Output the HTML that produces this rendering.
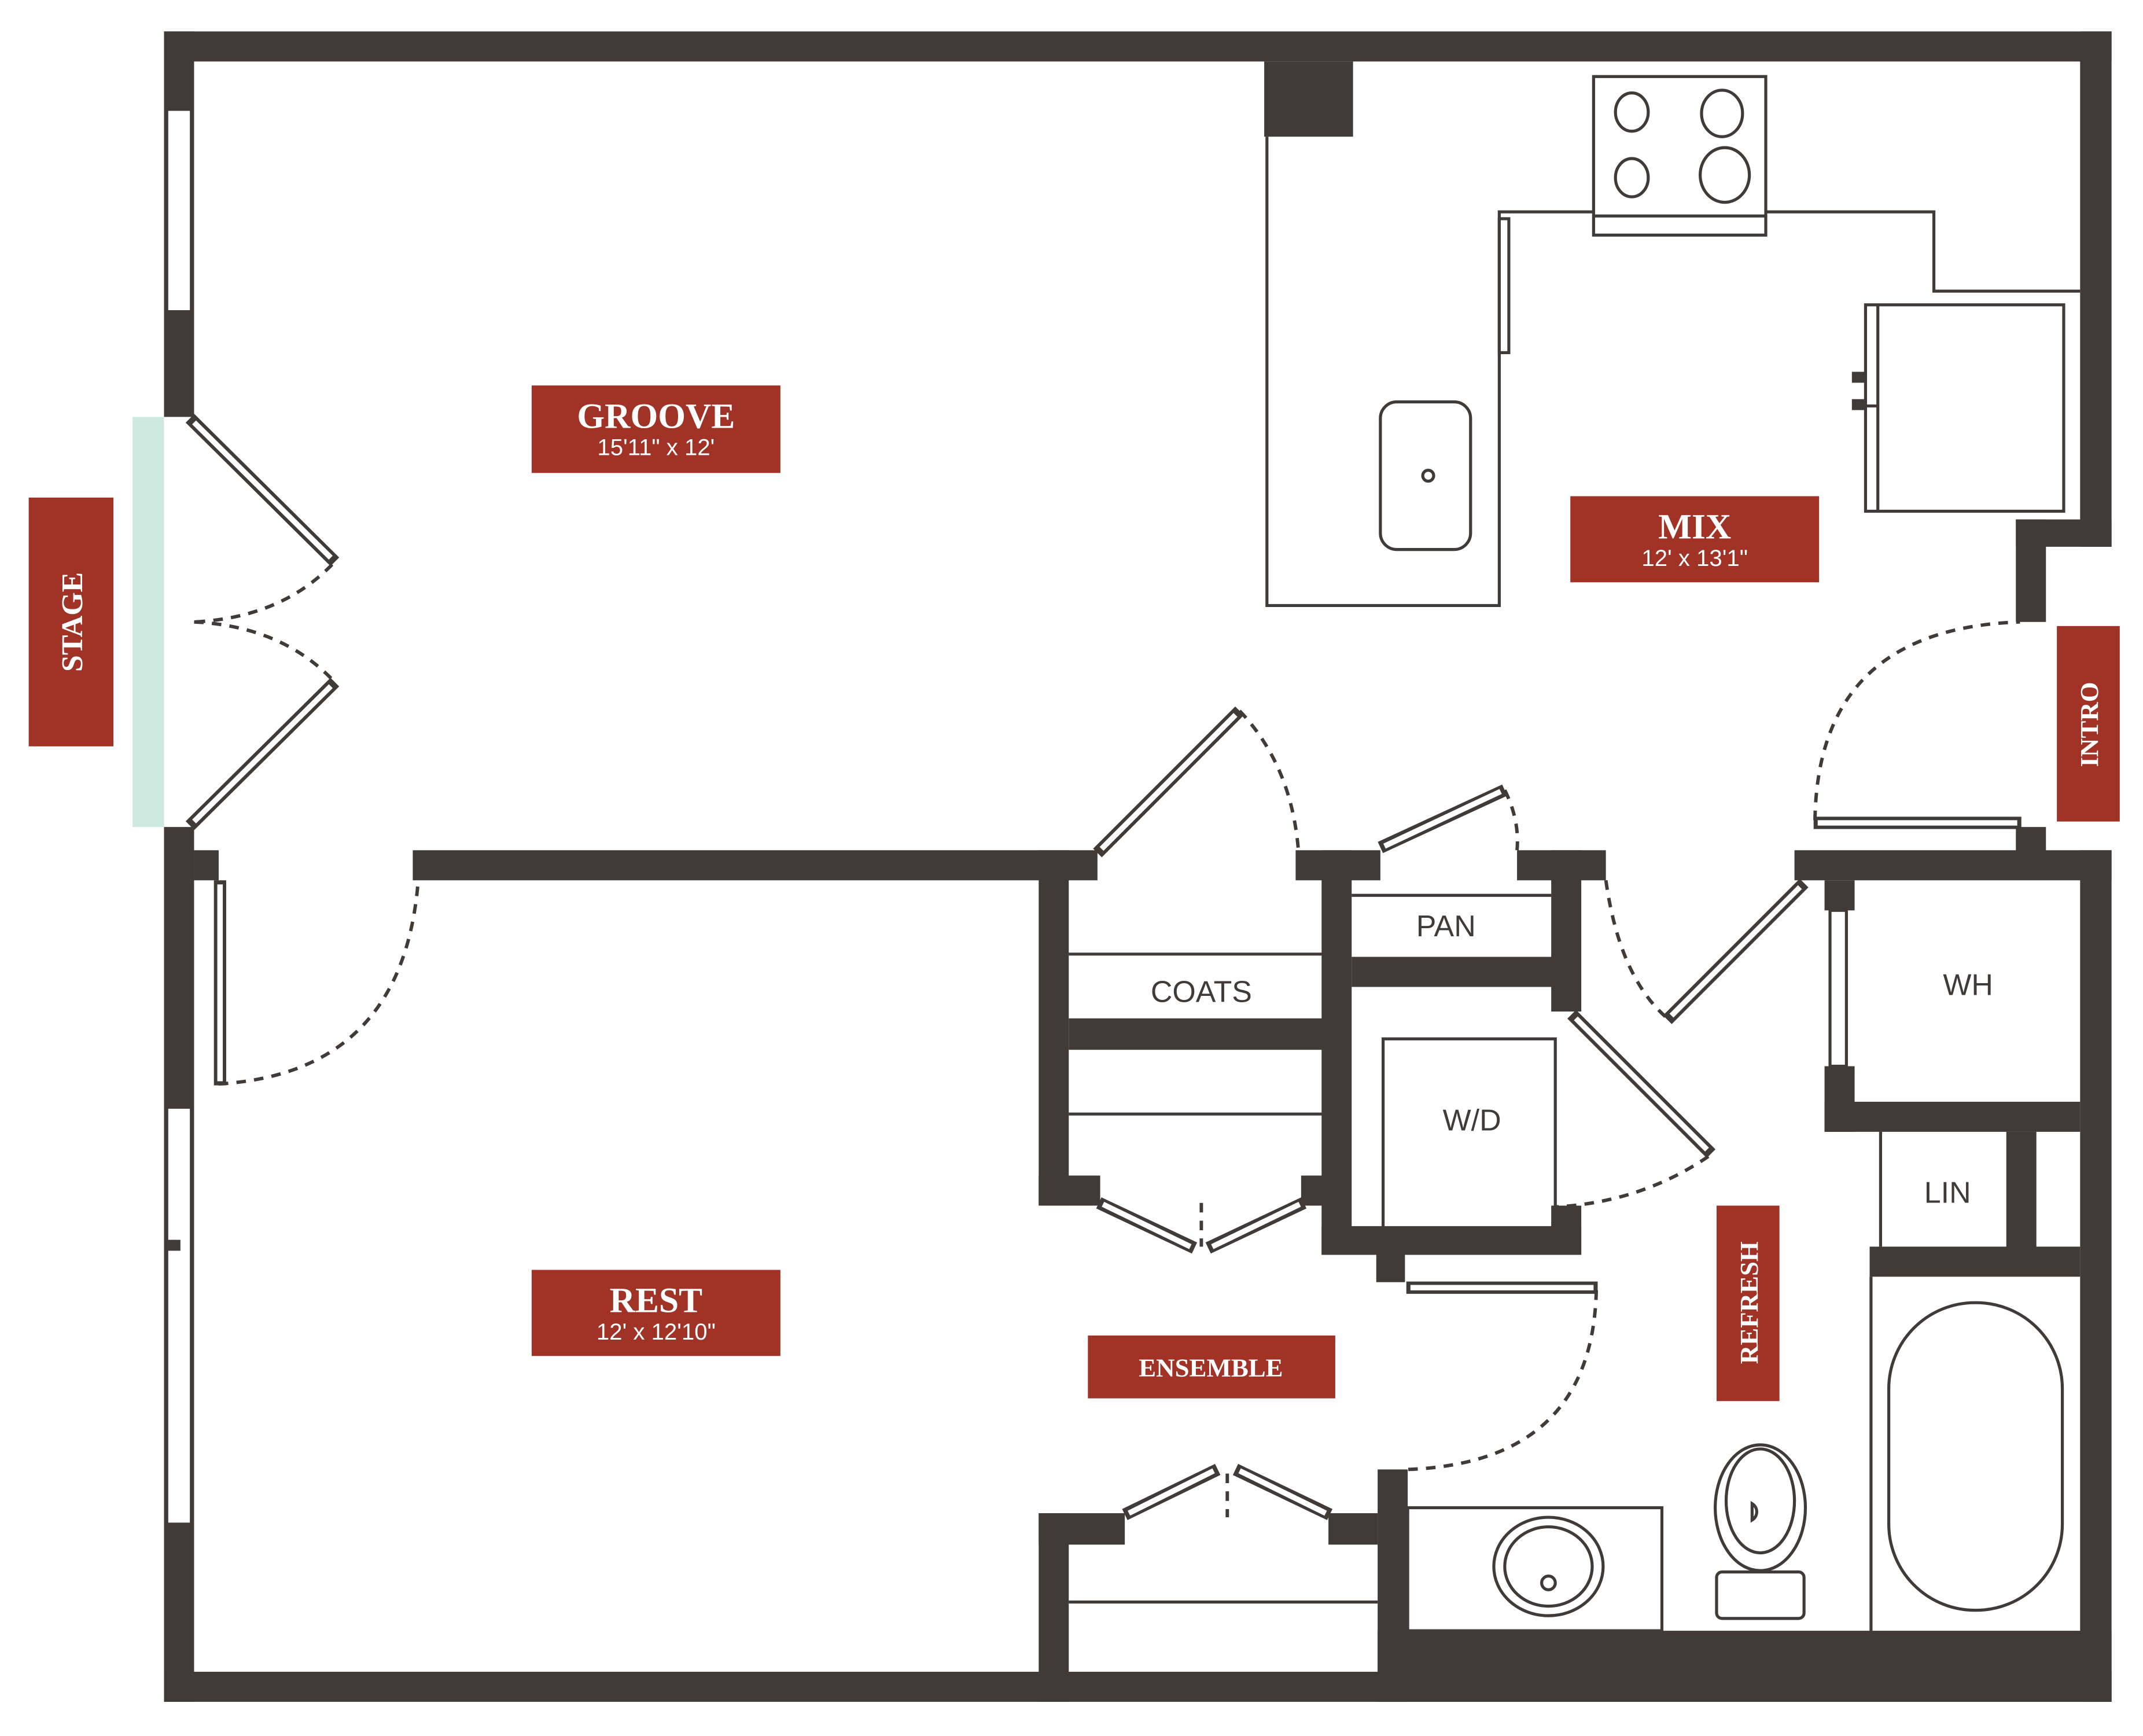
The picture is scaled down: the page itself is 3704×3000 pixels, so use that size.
<!DOCTYPE html>
<html><head><meta charset="utf-8"><style>
html,body{margin:0;padding:0;background:#fff}
svg{display:block}
.w{fill:#413b38}
.l{fill:none;stroke:#413b38;stroke-width:2.2}
.lw{fill:#fff;stroke:#413b38;stroke-width:2.2}
.d{fill:none;stroke:#413b38;stroke-width:2.5;stroke-dasharray:7,6}
.lab{fill:#a03226}
.t{font-family:"Liberation Serif",serif;font-weight:bold;fill:#fff}
.s{font-family:"Liberation Sans",sans-serif;fill:#fff}
.k{font-family:"Liberation Sans",sans-serif;fill:#413b38}
</style></head><body>
<svg width="3704" height="3000" viewBox="0 0 1568 1270" xmlns="http://www.w3.org/2000/svg">
<rect width="1568" height="1270" fill="#fff"/>
<!-- outer walls -->
<rect class="w" x="120" y="23" width="1425" height="22"/>
<rect class="w" x="120" y="1223" width="1425" height="22"/>
<rect class="w" x="120" y="23" width="22" height="282"/>
<rect class="w" x="120" y="605" width="22" height="640"/>
<rect class="w" x="142" y="622" width="18" height="22"/>
<rect class="lw" x="122" y="80" width="18" height="148"/>
<rect class="lw" x="122" y="810" width="18" height="305"/>
<rect class="w" x="120" y="907" width="12" height="8"/>
<rect x="97" y="305" width="23" height="300" fill="#cde9e0"/>
<rect class="w" x="1522" y="23" width="23" height="377"/>
<rect class="w" x="1475" y="380" width="70" height="20"/>
<rect class="w" x="1475" y="380" width="22" height="75"/>
<rect class="w" x="1475" y="605" width="22" height="20"/>
<rect class="w" x="1522" y="622" width="23" height="623"/>
<rect class="w" x="925" y="45" width="65" height="55"/>
<!-- interior walls -->
<rect class="w" x="302" y="622" width="501" height="22"/>
<rect class="w" x="948" y="622" width="62" height="22"/>
<rect class="w" x="1110" y="622" width="65" height="22"/>
<rect class="w" x="1313" y="622" width="232" height="22"/>
<rect class="w" x="760" y="622" width="22" height="260"/>
<rect class="w" x="760" y="860" width="45" height="22"/>
<rect class="w" x="952" y="860" width="20" height="22"/>
<line class="l" x1="782" y1="698" x2="968" y2="698"/>
<rect class="w" x="782" y="745" width="186" height="23"/>
<line class="l" x1="782" y1="815" x2="968" y2="815"/>
<rect class="w" x="967" y="622" width="22" height="296"/>
<line class="l" x1="989" y1="655" x2="1135" y2="655"/>
<rect class="w" x="989" y="700" width="166" height="22"/>
<rect class="w" x="1135" y="622" width="22" height="118"/>
<rect class="lw" x="1012" y="760" width="126" height="142"/>
<rect class="w" x="967" y="897" width="190" height="21"/>
<rect class="w" x="1135" y="882" width="22" height="36"/>
<rect class="w" x="1007" y="918" width="21" height="20"/>
<!-- bath area -->
<rect class="w" x="1335" y="644" width="22" height="22"/>
<rect class="lw" x="1339" y="666" width="12" height="114"/>
<rect class="w" x="1335" y="780" width="22" height="48"/>
<rect class="w" x="1335" y="806" width="187" height="22"/>
<line class="l" x1="1376" y1="828" x2="1376" y2="912"/>
<rect class="w" x="1468" y="828" width="22" height="90"/>
<rect class="w" x="1368" y="912" width="154" height="22"/>
<line class="l" x1="1369" y1="934" x2="1369" y2="1193"/>
<rect class="w" x="1008" y="1075" width="22" height="170"/>
<rect class="w" x="1008" y="1193" width="537" height="52"/>
<rect class="l" x="1030" y="1103" width="186" height="90"/>
<ellipse class="l" cx="1133" cy="1146" rx="40" ry="36"/>
<ellipse class="l" cx="1133" cy="1146" rx="32" ry="29"/>
<ellipse class="l" cx="1133" cy="1158" rx="5" ry="5"/>
<ellipse class="l" cx="1288" cy="1103" rx="33" ry="46"/>
<ellipse class="l" cx="1288" cy="1098" rx="25" ry="38"/>
<path class="l" d="M1282 1112 v-12 a7 7 0 0 1 0 12z"/>
<rect class="l" x="1256" y="1150" width="64" height="34" rx="4"/>
<rect class="l" x="1382" y="953" width="127" height="225" rx="63"/>
<!-- bottom closet -->
<rect class="w" x="760" y="1107" width="22" height="138"/>
<rect class="w" x="760" y="1107" width="63" height="23"/>
<rect class="w" x="972" y="1107" width="36" height="23"/>
<line class="l" x1="782" y1="1172" x2="1008" y2="1172"/>
<!-- kitchen -->
<polyline class="l" points="927,100 927,443 1097,443 1097,155 1415,155 1415,213 1522,213"/>
<rect class="lw" x="1097" y="160" width="7" height="98"/>
<rect class="lw" x="1166" y="56" width="126" height="116"/>
<line class="l" x1="1166" y1="158" x2="1292" y2="158"/>
<ellipse class="l" cx="1194" cy="82" rx="12" ry="14"/>
<ellipse class="l" cx="1260" cy="83" rx="15" ry="17"/>
<ellipse class="l" cx="1194" cy="130" rx="12" ry="14"/>
<ellipse class="l" cx="1262" cy="128" rx="18" ry="20"/>
<rect class="lw" x="1010" y="294" width="66" height="108" rx="12"/>
<circle class="l" cx="1045" cy="348" r="4"/>
<rect class="lw" x="1365" y="223" width="145" height="151"/>
<line class="l" x1="1374" y1="223" x2="1374" y2="374"/>
<line class="l" x1="1365" y1="297" x2="1374" y2="297"/>
<rect class="w" x="1355" y="272" width="10" height="8"/>
<rect class="w" x="1355" y="292" width="10" height="8"/>
<!-- door leaves -->
<g stroke="#413b38" stroke-width="9" stroke-linecap="butt" fill="none">
<line x1="139" y1="306" x2="245" y2="411"/><line x1="139" y1="604" x2="245" y2="499"/>
<line x1="161" y1="644" x2="161" y2="794"/>
<line x1="803" y1="624" x2="907" y2="520"/>
<line x1="1010" y1="620" x2="1101" y2="578"/>
<line x1="1220" y1="746" x2="1320" y2="646"/>
<line x1="1150" y1="742" x2="1252" y2="844"/>
<line x1="1327" y1="602" x2="1479" y2="602"/>
<line x1="1029" y1="942" x2="1169" y2="942"/>
<line x1="804" y1="880" x2="874" y2="913"/><line x1="884" y1="913" x2="954" y2="880"/>
<line x1="823" y1="1108" x2="891" y2="1075"/><line x1="904" y1="1075" x2="973" y2="1108"/>
</g>
<g stroke="#fff" stroke-width="4" fill="none">
<line x1="142" y1="309" x2="242" y2="408"/><line x1="142" y1="601" x2="242" y2="502"/>
<line x1="161" y1="647" x2="161" y2="791"/>
<line x1="806" y1="621" x2="904" y2="523"/>
<line x1="1013" y1="619" x2="1098" y2="579"/>
<line x1="1223" y1="743" x2="1317" y2="649"/>
<line x1="1153" y1="745" x2="1249" y2="841"/>
<line x1="1330" y1="602" x2="1476" y2="602"/>
<line x1="1032" y1="942" x2="1166" y2="942"/>
<line x1="807" y1="881" x2="871" y2="912"/><line x1="887" y1="912" x2="951" y2="881"/>
<line x1="826" y1="1107" x2="888" y2="1076"/><line x1="907" y1="1076" x2="970" y2="1107"/>
</g>
<!-- swings -->
<path class="d" d="M243 413 Q205 452 142 455"/>
<path class="d" d="M142 455 Q205 458 243 497"/>
<path class="d" d="M160 793 Q295 785 306 644"/>
<path class="d" d="M907 520 Q945 560 950 622"/>
<path class="d" d="M1101 578 Q1112 600 1110 622"/>
<path class="d" d="M1175 644 Q1185 715 1220 745"/>
<path class="d" d="M1250 846 Q1200 880 1137 883"/>
<path class="d" d="M1328 600 Q1330 460 1478 455"/>
<path class="d" d="M1168 944 Q1165 1070 1030 1075"/>
<path class="d" d="M879 880 V912"/>
<path class="d" d="M898 1078 V1110"/>
<!-- small labels -->
<text class="k" x="1058" y="685" font-size="22" text-anchor="middle">PAN</text>
<text class="k" x="879" y="733" font-size="22" text-anchor="middle">COATS</text>
<text class="k" x="1077" y="827" font-size="22" text-anchor="middle">W/D</text>
<text class="k" x="1440" y="728" font-size="22" text-anchor="middle">WH</text>
<text class="k" x="1425" y="880" font-size="22" text-anchor="middle">LIN</text>
<!-- red labels -->
<rect class="lab" x="389" y="282" width="182" height="64"/>
<text class="t" x="480" y="313" font-size="26" text-anchor="middle">GROOVE</text>
<text class="s" x="480" y="333" font-size="17" text-anchor="middle">15'11" x 12'</text>
<rect class="lab" x="1149" y="363" width="182" height="63"/>
<text class="t" x="1240" y="394" font-size="26" text-anchor="middle">MIX</text>
<text class="s" x="1240" y="414" font-size="17" text-anchor="middle">12' x 13'1"</text>
<rect class="lab" x="389" y="929" width="182" height="63"/>
<text class="t" x="480" y="960" font-size="26" text-anchor="middle">REST</text>
<text class="s" x="480" y="980" font-size="17" text-anchor="middle">12' x 12'10"</text>
<rect class="lab" x="796" y="977" width="181" height="46"/>
<text class="t" x="886" y="1007" font-size="19" text-anchor="middle">ENSEMBLE</text>
<rect class="lab" x="21" y="364" width="62" height="182"/>
<text class="t" transform="translate(60,455) rotate(-90)" font-size="22" text-anchor="middle">STAGE</text>
<rect class="lab" x="1505" y="458" width="46" height="143"/>
<text class="t" transform="translate(1535,530) rotate(-90)" font-size="19" text-anchor="middle">INTRO</text>
<rect class="lab" x="1256" y="882" width="46" height="143"/>
<text class="t" transform="translate(1286,953) rotate(-90)" font-size="19" text-anchor="middle">REFRESH</text>
</svg>
</body></html>
